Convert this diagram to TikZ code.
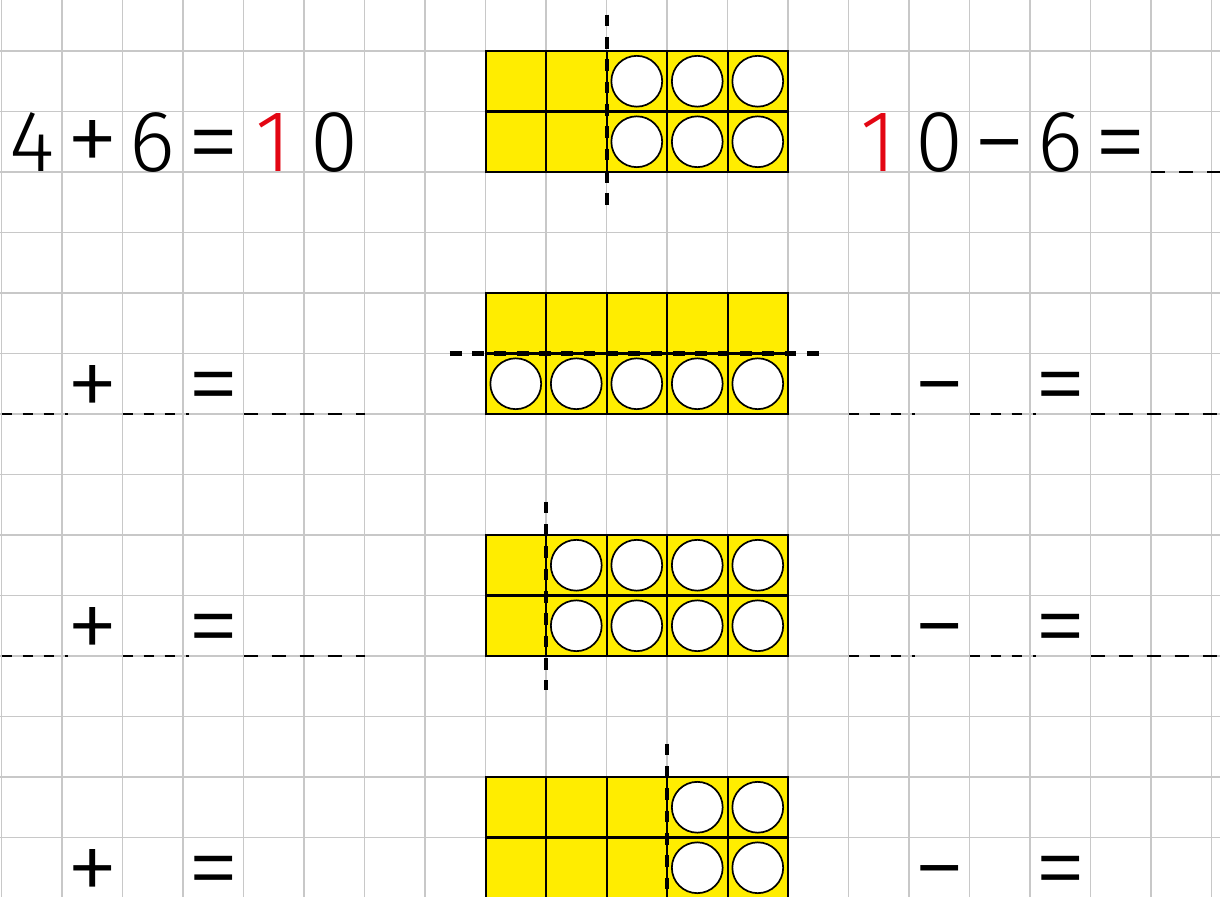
\documentclass[tikz,border=0pt]{standalone}
\usepackage{fontspec}
\setmainfont{Fira Sans Light}
\usepackage{xcolor}
\usetikzlibrary{positioning}

\definecolor{frameyellow}{RGB}{255,237,0}
\definecolor{gridgray}{RGB}{200,200,200}
\definecolor{hintred}{RGB}{227,6,19}

\begin{document}
\begin{tikzpicture}[
    x=1cm, y=-1cm,
    sym/.style={anchor=base, inner sep=0pt, font=\fontsize{41}{41}\selectfont},
    hint/.style={sym, text=hintred},
    op/.style={anchor=base, inner sep=0pt, yshift=-0.09cm, font=\fontsize{50}{50}\selectfont},
    cell/.style={rectangle, draw, fill=frameyellow, line width=0.95pt, minimum size=1cm, inner sep=0pt},
    dot/.style={circle, draw, fill=white, line width=0.8pt, minimum size=0.84cm, inner sep=0pt},
    cut/.style={line width=1.9pt, dash pattern=on 5.5pt off 5pt},
    blank/.style={line width=1.2pt, dash pattern=on 4.7pt off 5.2pt},
    blanklong/.style={line width=1.2pt, dash pattern=on 6.6pt off 6.6pt}
]
\clip (-0.025,-0.843) rectangle (20.14,13.983);

% squared paper
\foreach \i in {0,...,20}
    \draw[gridgray, line width=0.9pt] (\i,-1) -- (\i,15);
\foreach \j in {0,...,14}
    \draw[gridgray, line width=0.9pt] (-1,\j) -- (21,\j);

% frame 1: 4 | 6
\foreach \r in {0,1}
    \foreach \c in {8,...,12}
        \node[cell] (a-\r-\c) at (\c+0.5,\r+0.5) {};
\foreach \r in {0,1}
    \foreach \c in {10,11,12}
        \node[dot] (ad-\r-\c) at (a-\r-\c) {};
\draw[cut] (10,-0.6) -- (10,2.55);

% frame 2: 5 / 5
\foreach \r in {4,5}
    \foreach \c in {8,...,12}
        \node[cell] (b-\r-\c) at (\c+0.5,\r+0.5) {};
\foreach \c in {8,...,12}
    \node[dot] (bd-\c) at (b-5-\c) {};
\draw[cut] (7.41,5) -- (13.6,5);

% frame 3: 2 | 8
\foreach \r in {8,9}
    \foreach \c in {8,...,12}
        \node[cell] (c-\r-\c) at (\c+0.5,\r+0.5) {};
\foreach \r in {8,9}
    \foreach \c in {9,...,12}
        \node[dot] (cd-\r-\c) at (c-\r-\c) {};
\draw[cut] (9,7.45) -- (9,10.56);

% frame 4: 6 | 4
\foreach \r in {12,13}
    \foreach \c in {8,...,12}
        \node[cell] (d-\r-\c) at (\c+0.5,\r+0.5) {};
\foreach \r in {12,13}
    \foreach \c in {11,12}
        \node[dot] (dd-\r-\c) at (d-\r-\c) {};
\draw[cut] (11,11.45) -- (11,14.6);

% first row of sums
\node[sym] (l2-a) at (0.5,2) {4};
\node[op] (l2-op) at (1.5,1.95) {+};
\node[sym] (l2-b) at (2.5,2) {6};
\node[op] (l2-eq) at (3.5,2) {=};
\node[hint] (l2-t) at (4.5,2) {1};
\node[sym] (l2-o) at (5.5,2) {0};

\node[hint] (r2-t) at (14.5,2) {1};
\node[sym] (r2-o) at (15.5,2) {0};
\node[op] (r2-op) at (16.5,2) {−};
\node[sym] (r2-b) at (17.5,2) {6};
\node[op] (r2-eq) at (18.5,2) {=};
\draw[blanklong] (19,2) -- (20.3,2);

% empty rows
\foreach \k in {6,10,14} {
    \node[op] (l\k-op) at (1.5,\k) {+};
    \node[op] (l\k-eq) at (3.5,\k) {=};
    \node[op] (r\k-op) at (15.5,\k) {−};
    \node[op] (r\k-eq) at (17.5,\k) {=};
    \draw[blank] (0,\k) -- (1.1,\k);
    \draw[blank] (2,\k) -- (3.1,\k);
    \draw[blanklong] (4,\k) -- (6,\k);
    \draw[blank] (14,\k) -- (15.1,\k);
    \draw[blank] (16,\k) -- (17.1,\k);
    \draw[blanklong] (18,\k) -- (20.3,\k);
}
\end{tikzpicture}
\end{document}
